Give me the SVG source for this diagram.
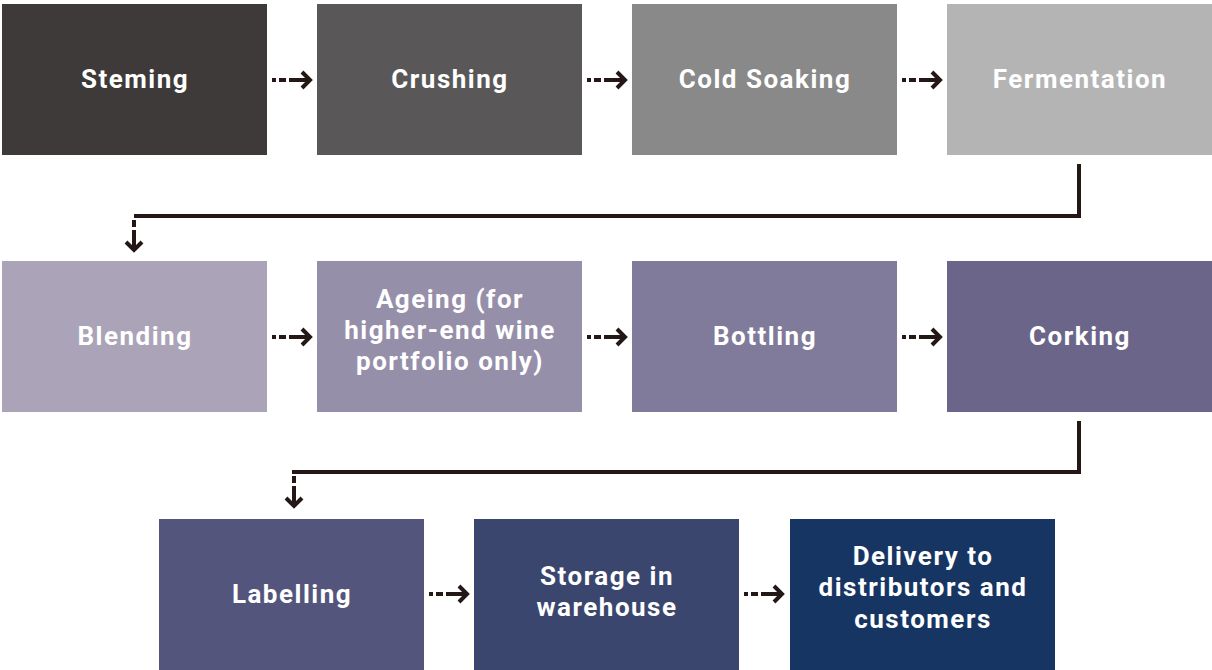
<svg xmlns="http://www.w3.org/2000/svg" width="1212" height="670" viewBox="0 0 1212 670">
<defs>
<style>
.box{stroke:none}
.t{font-family:Roboto,"Liberation Sans",sans-serif;font-weight:bold;font-size:26px;letter-spacing:1.5px;fill:#ffffff;text-anchor:middle}
.ln{stroke:#231815;stroke-width:4;fill:none}
.hd{stroke:#231815;stroke-width:4;fill:none;stroke-linejoin:miter}
.dot{fill:#231815}
</style>
<g id="harrow">
<rect class="dot" x="0" y="-2" width="4" height="4"/>
<rect class="dot" x="7" y="-2" width="7" height="4"/>
<line class="ln" x1="17" y1="0" x2="38" y2="0"/>
<polyline class="hd" points="30,-8 38,0 30,8"/>
</g>
<g id="varrow">
<rect class="dot" x="-2" y="0" width="4" height="7"/>
<line class="ln" x1="0" y1="10" x2="0" y2="30"/>
<polyline class="hd" points="-8,22 0,30 8,22"/>
</g>
</defs>
<rect width="1212" height="670" fill="#ffffff"/>

<g id="n1"><rect class="box" x="2" y="4" width="265" height="151" fill="#3e3a39"/><text class="t" x="135" y="88">Steming</text></g>
<g id="n2"><rect class="box" x="317" y="4" width="265" height="151" fill="#595757"/><text class="t" x="450" y="88">Crushing</text></g>
<g id="n3"><rect class="box" x="632" y="4" width="265" height="151" fill="#898989"/><text class="t" x="765" y="88">Cold Soaking</text></g>
<g id="n4"><rect class="box" x="947" y="4" width="265" height="151" fill="#b4b4b5"/><text class="t" x="1080" y="88">Fermentation</text></g>

<g id="n5"><rect class="box" x="2" y="261" width="265" height="151" fill="#aba3b8"/><text class="t" x="135" y="345">Blending</text></g>
<g id="n6"><rect class="box" x="317" y="261" width="265" height="151" fill="#968faa"/><text class="t"><tspan x="450" y="308">Ageing (for</tspan><tspan x="450" y="339">higher-end wine</tspan><tspan x="450" y="370">portfolio only)</tspan></text></g>
<g id="n7"><rect class="box" x="632" y="261" width="265" height="151" fill="#807b9a"/><text class="t" x="765" y="345">Bottling</text></g>
<g id="n8"><rect class="box" x="947" y="261" width="265" height="151" fill="#6b6689"/><text class="t" x="1080" y="345">Corking</text></g>

<g id="n9"><rect class="box" x="159" y="519" width="265" height="151" fill="#53557c"/><text class="t" x="292" y="603">Labelling</text></g>
<g id="n10"><rect class="box" x="474" y="519" width="265" height="151" fill="#3b466f"/><text class="t"><tspan x="607" y="585">Storage in</tspan><tspan x="607" y="616">warehouse</tspan></text></g>
<g id="n11"><rect class="box" x="790" y="519" width="265" height="151" fill="#173562"/><text class="t"><tspan x="923" y="565">Delivery to</tspan><tspan x="923" y="596">distributors and</tspan><tspan x="923" y="628">customers</tspan></text></g>

<g id="connectors">
<use href="#harrow" x="272" y="80"/>
<use href="#harrow" x="587" y="80"/>
<use href="#harrow" x="902" y="80"/>
<use href="#harrow" x="272" y="337"/>
<use href="#harrow" x="587" y="337"/>
<use href="#harrow" x="902" y="337"/>
<use href="#harrow" x="429" y="594"/>
<use href="#harrow" x="744" y="594"/>
<polyline class="ln" points="1079,164 1079,216 134,216"/>
<use href="#varrow" x="134" y="220"/>
<polyline class="ln" points="1079,421 1079,472 292,472"/>
<use href="#varrow" x="294" y="476"/>
</g>
</svg>
